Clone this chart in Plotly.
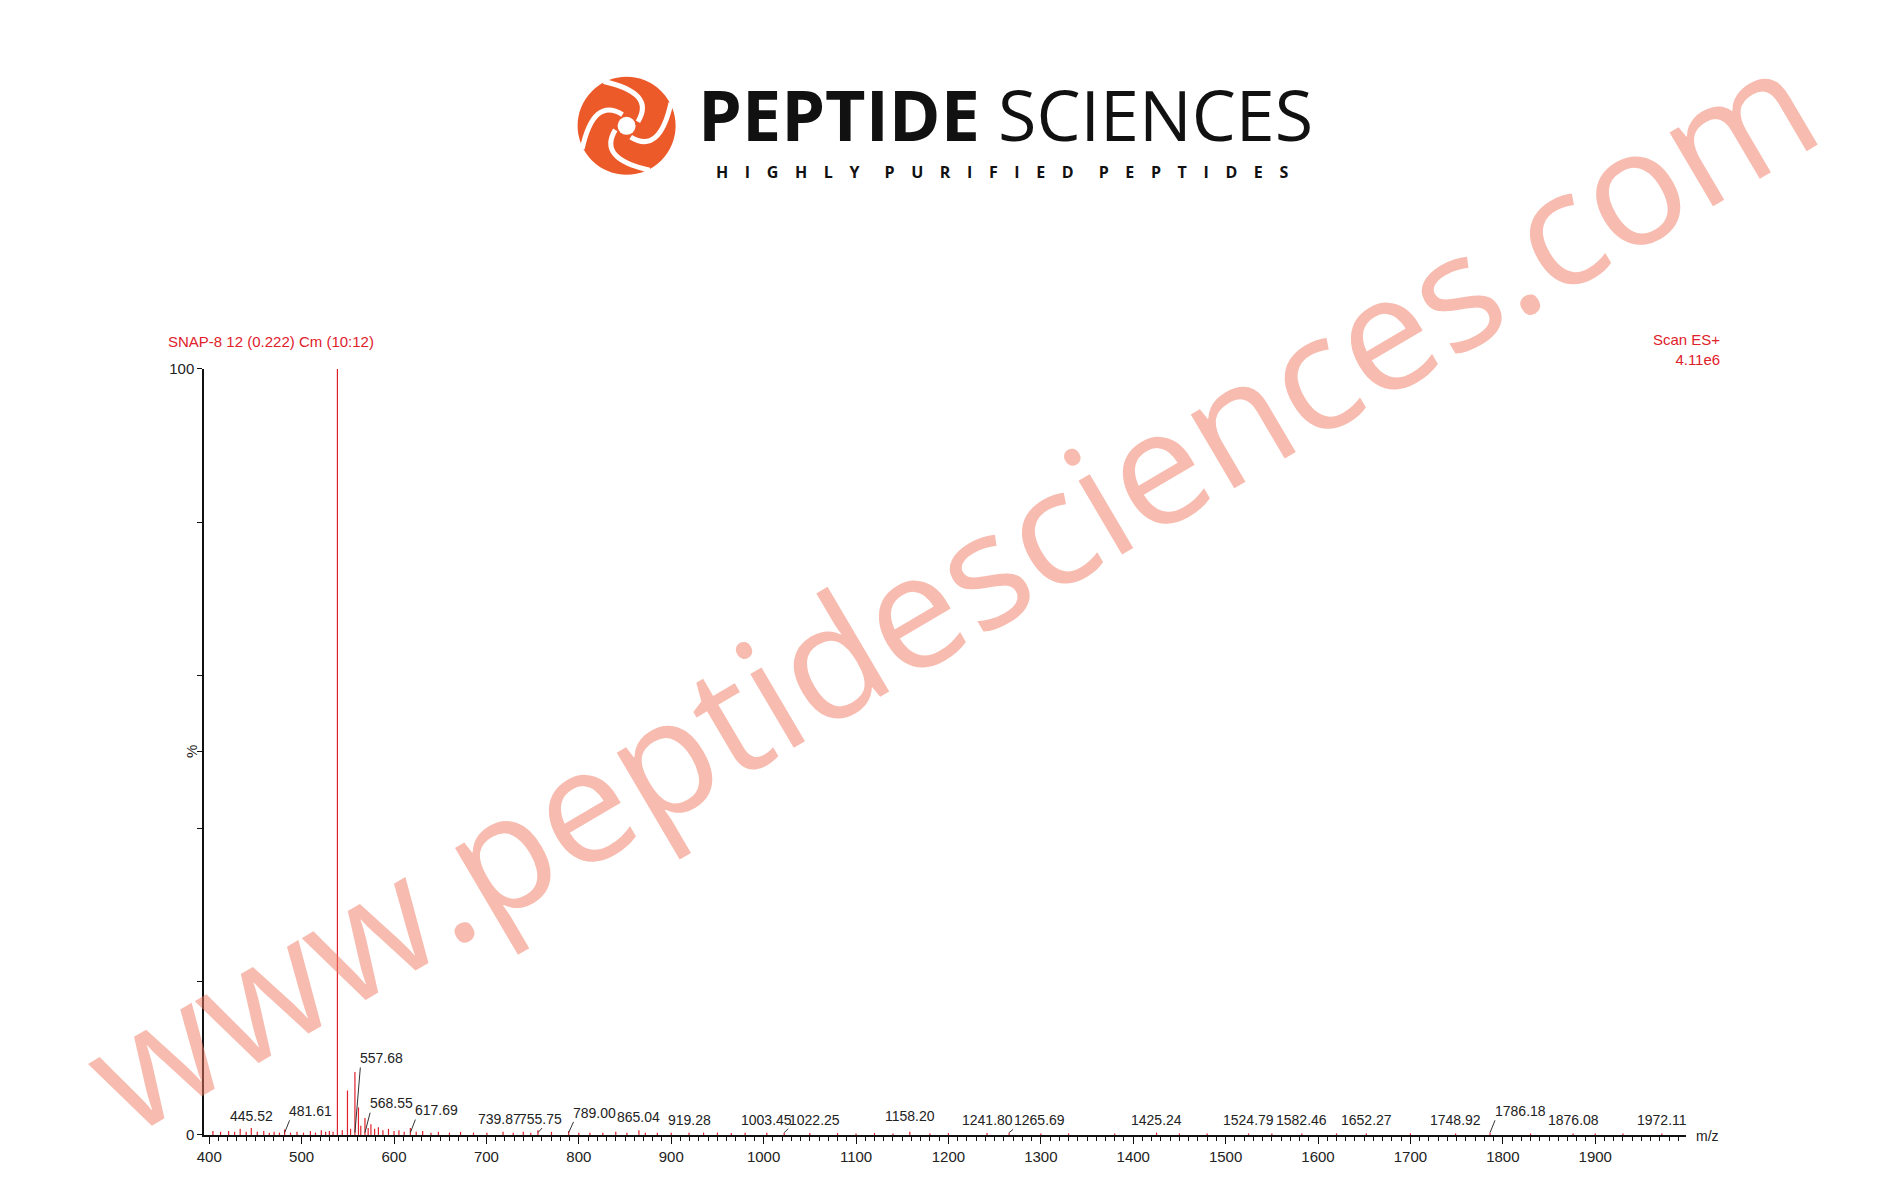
import math
import plotly.graph_objects as go

# ---- spectrum data (m/z, relative intensity %) ----
peak_mz = [404.0, 412.3, 421.0, 427.5, 433.5, 440.0, 445.52, 452.0, 459.0, 465.0, 470.2, 476.0,
           481.61, 488.0, 495.0, 502.0, 509.5, 515.0, 521.3, 526.0, 530.0, 534.0,
           538.72, 544.0, 549.6, 553.0, 557.68, 561.5, 564.0, 568.55, 572.0, 575.0, 579.0,
           583.1, 588.0, 594.0, 600.0, 605.3, 611.0, 617.69, 624.0, 631.0, 640.0,
           648.0, 660.0, 672.0, 686.0, 700.5, 718.0, 729.0, 739.87, 748.0, 755.75, 770.4,
           789.00, 800.0, 812.0, 826.0, 840.0, 852.0, 865.04, 872.0, 885.0, 900.0, 919.28,
           935.0, 950.0, 965.0, 980.0, 1003.45, 1022.25, 1050.0, 1080.0, 1100.0, 1120.0,
           1140.0, 1158.20, 1180.0, 1200.0, 1241.80, 1265.69, 1300.0, 1330.0, 1380.0,
           1425.24, 1450.0, 1480.0, 1524.79, 1550.0, 1582.46, 1620.0, 1652.27,
           1700.0, 1748.92, 1786.18, 1830.0, 1876.08, 1900.0, 1930.0, 1972.11]
peak_int = [0.5, 0.4, 0.5, 0.4, 0.8, 0.4, 0.9, 0.4, 0.5, 0.3, 0.4, 0.3,
            0.7, 0.3, 0.4, 0.3, 0.5, 0.3, 0.6, 0.4, 0.5, 0.4,
            100, 0.6, 5.8, 0.8, 8.2, 3.6, 1.2, 2.2, 0.9, 1.4, 0.8,
            1.0, 0.6, 0.8, 0.5, 0.6, 0.4, 0.9, 0.4, 0.5, 0.3,
            0.4, 0.3, 0.4, 0.3, 0.3, 0.4, 0.3, 0.4, 0.3, 0.6, 0.4,
            0.5, 0.3, 0.3, 0.3, 0.4, 0.3, 0.6, 0.3, 0.3, 0.3, 0.3,
            0.3, 0.3, 0.25, 0.3, 0.3, 0.3, 0.25, 0.25, 0.2, 0.25,
            0.2, 0.4, 0.2, 0.25, 0.25, 0.3, 0.2, 0.2, 0.2,
            0.3, 0.2, 0.2, 0.2, 0.2, 0.2, 0.2, 0.2,
            0.2, 0.2, 0.3, 0.2, 0.2, 0.2, 0.2, 0.2]

# labelled peaks: m/z, label y (%), leader line, text anchor
label_mz = [538.72, 557.68, 568.55, 617.69, 445.52, 481.61, 739.87, 755.75, 789.00, 865.04,
            919.28, 1003.45, 1022.25, 1158.20, 1241.80, 1265.69, 1425.24, 1524.79, 1582.46,
            1652.27, 1748.92, 1786.18, 1876.08, 1972.11]
label_y = [100.6, 8.7, 2.8, 1.9, 1.2, 1.8, 0.8, 0.8, 1.6, 1.0,
           0.7, 0.7, 0.7, 1.2, 0.6, 0.6, 0.6, 0.6, 0.6,
           0.6, 0.6, 1.8, 0.6, 0.6]
label_arrow = [False, True, True, True, False, True, False, True, True, False,
               False, False, True, False, False, True, False, False, False,
               False, False, True, False, False]
label_anchor = ['center', 'left', 'left', 'left', 'center', 'left', 'right', 'center', 'left', 'center',
                'center', 'center', 'left', 'center', 'center', 'left', 'center', 'center', 'center',
                'center', 'center', 'left', 'center', 'center']

RED = '#e0212b'
FONT = 'Liberation Sans'

xs, ys = [], []
for mz, it in zip(peak_mz, peak_int):
    xs += [mz, mz, None]
    ys += [0, it, None]

fig = go.Figure()
fig.add_trace(go.Scatter(x=xs, y=ys, mode='lines', line=dict(color=RED, width=1.2),
                         hoverinfo='skip', showlegend=False))

annotations = []
for mz, ly, arr, anc in zip(label_mz, label_y, label_arrow, label_anchor):
    if arr:
        annotations.append(dict(x=mz, y=0.3, ax=mz + 6, ay=ly + 0.3, axref='x', ayref='y',
                                text='', showarrow=True, arrowhead=0, arrowwidth=1,
                                arrowcolor='#333'))
    annotations.append(dict(x=mz + (3 if arr else 0), y=ly, text='%.2f' % mz, showarrow=False,
                            xanchor=anc, yanchor='bottom',
                            font=dict(size=14, color='#222', family=FONT)))

sub_words = ['HIGHLY', 'PURIFIED', 'PEPTIDES']
subtitle = ('&nbsp;' * 6).join('&nbsp;&nbsp;&nbsp;&nbsp;'.join(w) for w in sub_words)

annotations += [
    dict(xref='paper', yref='paper', x=0.080, y=0.726, text='SNAP-8 12 (0.222) Cm (10:12)',
         showarrow=False, xanchor='left', yanchor='middle', font=dict(size=15, color=RED, family=FONT)),
    dict(xref='paper', yref='paper', x=0.9106, y=0.719, text='Scan ES+<br>4.11e6', align='right',
         showarrow=False, xanchor='right', yanchor='middle',
         font=dict(size=15, color=RED, family=FONT)),
    dict(xref='paper', yref='paper', x=0.088, y=0.379, text='%', textangle=-90, showarrow=False,
         font=dict(size=15, color='#222', family=FONT)),
    dict(xref='paper', yref='paper', x=0.896, y=0.0537, text='m/z', showarrow=False,
         xanchor='left', yanchor='middle', font=dict(size=14, color='#222', family=FONT)),
    # logo
    dict(xref='paper', yref='paper', x=0.363, y=0.918, xanchor='left', yanchor='middle',
         text='<b>PEPTIDE</b> SCIENCES', showarrow=False,
         font=dict(size=70, color='#111', family='Open Sans')),
    dict(xref='paper', yref='paper', x=0.3728, y=0.869, xanchor='left', yanchor='middle',
         text='<b>' + subtitle + '</b>', showarrow=False,
         font=dict(size=16, color='#111', family='Open Sans')),
    # watermark
    dict(xref='paper', yref='paper', x=0.4976, y=0.52, text='www.peptidesciences.com',
         textangle=-30.5, showarrow=False,
         font=dict(size=160, color='rgba(240,120,95,0.5)', family='Open Sans')),
]

# swirl logo mark (pixel geometry around an anchor)
LX, LY, R = 0.326, 0.908, 49
shapes = [dict(type='circle', xref='paper', yref='paper', xanchor=LX, yanchor=LY,
               xsizemode='pixel', ysizemode='pixel', x0=-R, x1=R, y0=-R, y1=R,
               fillcolor='#ec5a2a', line=dict(width=0)),
          dict(type='circle', xref='paper', yref='paper', xanchor=LX, yanchor=LY,
               xsizemode='pixel', ysizemode='pixel', x0=-9, x1=9, y0=-9, y1=9,
               fillcolor='white', line=dict(width=0))]
for k in range(4):
    t = math.radians(90 * k + 20)
    p0 = (12 * math.cos(t), 12 * math.sin(t))
    c = (44 * math.cos(t + 0.5), 44 * math.sin(t + 0.5))
    p1 = (50 * math.cos(t + 1.7), 50 * math.sin(t + 1.7))
    path = 'M %.1f,%.1f Q %.1f,%.1f %.1f,%.1f' % (p0 + c + p1)
    shapes.append(dict(type='path', xref='paper', yref='paper', xanchor=LX, yanchor=LY,
                       xsizemode='pixel', ysizemode='pixel', path=path,
                       line=dict(color='white', width=5)))

fig.update_layout(
    width=1881, height=1200,
    margin=dict(l=0, r=0, t=0, b=0),
    paper_bgcolor='white', plot_bgcolor='white',
    annotations=annotations, shapes=shapes,
    xaxis=dict(domain=[0.1005, 0.8915], range=[394.6, 1998], showgrid=False, zeroline=False,
               tickvals=list(range(400, 2000, 100)), ticks='outside', ticklen=7,
               tickcolor='#111', showline=True, linecolor='#111', linewidth=1.5,
               minor=dict(dtick=10, ticks='outside', ticklen=4, tickcolor='#111'),
               tickfont=dict(size=15, color='#222', family=FONT)),
    yaxis=dict(domain=[0.055, 0.7025], range=[0, 100], showgrid=False, zeroline=False,
               tickvals=[0, 20, 40, 50, 60, 80, 100], ticktext=['0', '', '', '', '', '', '100'],
               ticks='outside', ticklen=5, tickcolor='#111', showline=True,
               linecolor='#111', linewidth=2,
               tickfont=dict(size=15, color='#222', family=FONT)),
)

fig.write_html("out.html")
